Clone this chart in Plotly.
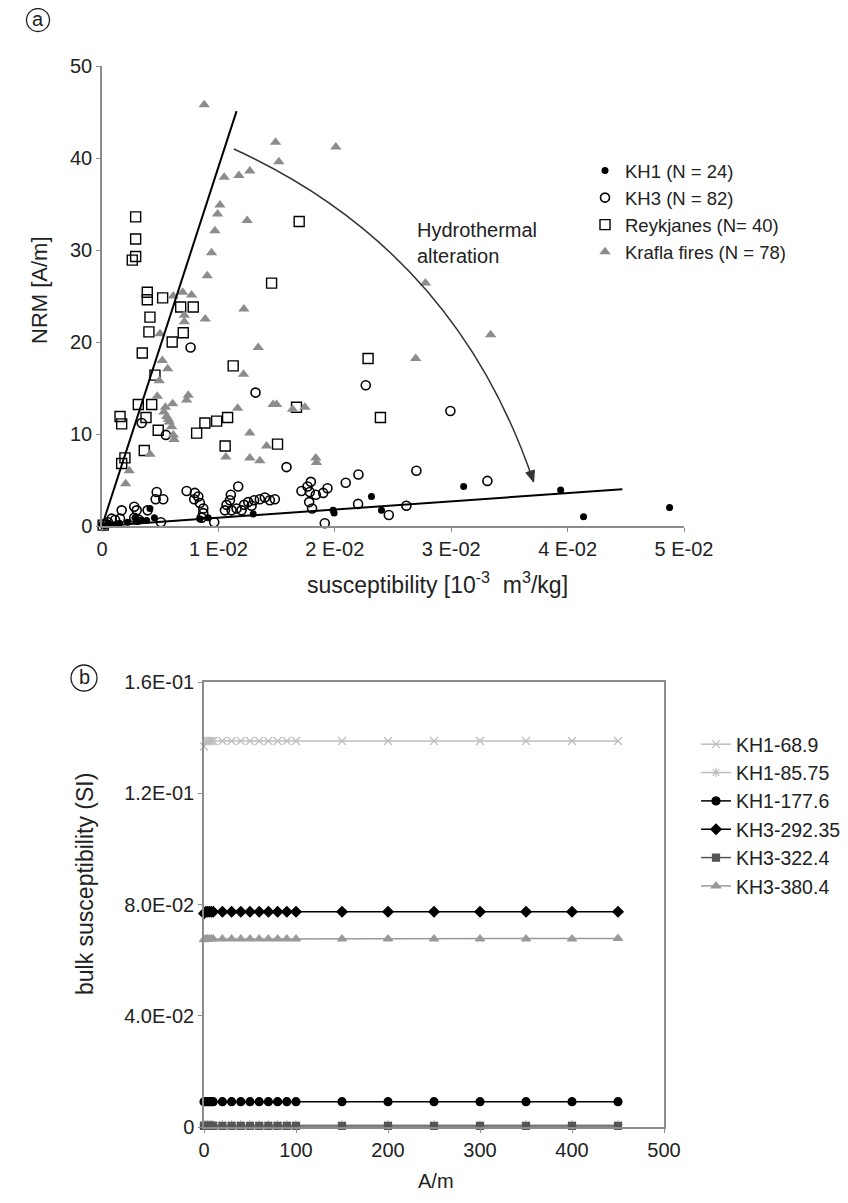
import plotly.graph_objects as go

# ---------------- Panel (a) data ----------------
kh1_x = [0.03107, 0.02315, 0.02401, 0.0394, 0.04137, 0.04876, 0.01985, 0.01994, 0.00841, 0.00912,
         0.01299, 0.00412, 0.00341, 0.00384, 0.00283, 0.00054, 0.00298, 0.00049, 0.0001, 0.0015,
         0.0022, 0.0012, 0.0030, 0.0045]
kh1_y = [4.3, 3.2, 1.7, 3.9, 1.0, 2.0, 1.7, 1.4, 0.75, 0.9,
         1.3, 1.9, 0.65, 0.6, 0.9, 0.3, 0.65, 0.1, 0.05, 0.3,
         0.4, 0.2, 0.5, 0.9]

kh3_x = [0.00761, 0.01319, 0.02266, 0.00549, 0.00341, 0.01585, 0.02203, 0.02094, 0.0117, 0.02701,
         0.02993, 0.03311, 0.02464, 0.02615, 0.022, 0.01914, 0.00964, 0.00506,
         0.00169, 0.00155, 0.00112, 0.00083, 0.00277, 0.00298, 0.00277, 0.00312, 0.00392, 0.0047,
         0.00461, 0.00526,
         0.00727, 0.00798, 0.00827, 0.00792, 0.00841, 0.0087, 0.0087, 0.00856,
         0.01107, 0.01099, 0.0107, 0.01056, 0.01113, 0.01156, 0.01199, 0.01221, 0.01256, 0.01285,
         0.01307, 0.01356, 0.01399, 0.01442, 0.01485,
         0.01794, 0.01766, 0.01714, 0.01785, 0.01837, 0.019, 0.01937, 0.0178, 0.01805,
         0.00017, 0.00052]
kh3_y = [19.4, 14.5, 15.3, 9.9, 11.2, 6.4, 5.6, 4.7, 4.3, 6.0,
         12.5, 4.9, 1.2, 2.2, 2.4, 0.3, 0.4, 0.4,
         1.7, 0.8, 0.65, 0.8, 2.1, 1.7, 0.9, 0.7, 1.7, 3.7,
         2.9, 2.9,
         3.8, 3.6, 3.2, 2.9, 2.5, 1.9, 1.4, 0.9,
         3.4, 2.8, 2.3, 1.7, 1.7, 1.9, 1.7, 2.3, 2.6, 2.2,
         2.8, 2.9, 3.1, 2.8, 2.9,
         4.8, 4.3, 3.8, 3.7, 3.4, 3.6, 4.1, 2.6, 1.9,
         0.2, 0.4]

reyk_x = [0.00289, 0.00289, 0.00289, 0.0026, 0.01694, 0.01457, 0.00389, 0.00521, 0.00389, 0.00676,
          0.00784, 0.00412, 0.00403, 0.00698, 0.00603, 0.00346, 0.01127, 0.00455, 0.00312, 0.00427,
          0.00378, 0.00155, 0.00169, 0.00483, 0.00813, 0.00884, 0.00985, 0.01079, 0.01058, 0.01508,
          0.00363, 0.00197, 0.00169, 0.01671, 0.02286, 0.02392, 0.0001]
reyk_y = [33.6, 31.2, 29.3, 28.9, 33.1, 26.4, 25.4, 24.8, 24.6, 23.8,
          23.8, 22.7, 21.1, 21.0, 20.0, 18.8, 17.4, 16.4, 13.2, 13.2,
          11.8, 11.9, 11.1, 10.4, 10.1, 11.2, 11.4, 11.8, 8.7, 8.9,
          8.2, 7.4, 6.8, 12.9, 18.2, 11.8, 0.1]

krafla_x = [0.00878, 0.01491, 0.02009, 0.01519, 0.01050, 0.01176, 0.01270, 0.01013, 0.00993, 0.01247,
            0.00970, 0.00941, 0.00904, 0.00693, 0.00770, 0.00612, 0.03339, 0.02695, 0.02779, 0.01219,
            0.00707, 0.00707, 0.00887, 0.00498, 0.01342, 0.00518, 0.00564, 0.00492, 0.01216, 0.00475,
            0.00607, 0.00741, 0.00727, 0.00532, 0.00545, 0.00555, 0.00570, 0.00578, 0.00598, 0.00612,
            0.00620, 0.01165, 0.01470, 0.01500, 0.01743, 0.01637, 0.01270, 0.01414, 0.01064, 0.01270,
            0.01356, 0.01837, 0.01843, 0.00412, 0.00234, 0.00203]
krafla_y = [45.8, 41.7, 41.2, 39.6, 37.9, 38.1, 38.6, 34.9, 33.9, 33.2,
            32.1, 29.7, 27.2, 25.4, 25.1, 25.0, 20.8, 18.2, 26.4, 23.6,
            22.2, 22.9, 22.5, 20.9, 19.4, 18.0, 17.1, 15.8, 16.5, 14.1,
            13.3, 14.2, 13.7, 12.4, 12.9, 11.9, 11.6, 11.3, 10.8, 9.9,
            9.4, 12.8, 13.2, 13.2, 12.9, 12.7, 10.1, 8.7, 7.5, 7.4,
            7.1, 7.4, 6.9, 7.8, 6.0, 4.6]

# guide lines (x, y end points, starting at origin)
steep_line_x = [0.0, 0.01156]
steep_line_y = [0.0, 45.1]
flat_line_x = [0.0, 0.0447]
flat_line_y = [0.0, 4.0]

a_xtick_vals = [0, 0.01, 0.02, 0.03, 0.04, 0.05]
a_xtick_text = ["0", "1 E-02", "2 E-02", "3 E-02", "4 E-02", "5 E-02"]
a_ytick_vals = [0, 10, 20, 30, 40, 50]

# ---------------- Panel (b) data ----------------
field_am = [0, 2, 4, 6, 8, 10, 20, 30, 40, 50, 60, 70, 80, 90, 100, 150, 200, 250, 300, 350, 400, 450]
kh1_68_9 = [0.1368] + [0.1388] * 21
kh1_85_75 = [0.0008] * 22
kh1_177_6 = [0.0091] * 22
kh3_292_35 = [0.0768] + [0.0774] * 21
kh3_322_4 = [0.0004] * 22
kh3_380_4 = [0.0674] + [0.0676] * 20 + [0.0678]

b_ytick_vals = [0, 0.04, 0.08, 0.12, 0.16]
b_ytick_text = ["0", "4.0E-02", "8.0E-02", "1.2E-01", "1.6E-01"]

FONT = "Liberation Sans, Arial, sans-serif"
OFF = 8                      # page body margin of the html page
W, H = 848 - 2 * OFF, 1203 - 2 * OFF
ML, MR, MT, MB = 10, 20, 30, 10


def px(v):
    """screen pixel x -> paper fraction"""
    return (v - OFF - ML) / (W - ML - MR)


def py(v):
    """screen pixel y (from top) -> paper fraction"""
    return 1 - (v - OFF - MT) / (H - MT - MB)


fig = go.Figure()

# panel a scatter
fig.add_trace(go.Scatter(x=kh1_x, y=kh1_y, mode="markers", name="KH1 (N = 24)",
                         marker=dict(symbol="circle", size=7, color="black"),
                         cliponaxis=False, legend="legend", xaxis="x", yaxis="y"))
fig.add_trace(go.Scatter(x=kh3_x, y=kh3_y, mode="markers", name="KH3 (N = 82)",
                         marker=dict(symbol="circle-open", size=9, color="black", line=dict(width=1.6)),
                         cliponaxis=False, legend="legend", xaxis="x", yaxis="y"))
fig.add_trace(go.Scatter(x=reyk_x, y=reyk_y, mode="markers", name="Reykjanes (N= 40)",
                         marker=dict(symbol="square-open", size=10, color="black", line=dict(width=1.4)),
                         cliponaxis=False, legend="legend", xaxis="x", yaxis="y"))
fig.add_trace(go.Scatter(x=krafla_x, y=krafla_y, mode="markers", name="Krafla fires (N = 78)",
                         marker=dict(symbol="triangle-up", size=10, color="#8c8c8c"),
                         cliponaxis=False, legend="legend", xaxis="x", yaxis="y"))
fig.add_trace(go.Scatter(x=steep_line_x, y=steep_line_y, mode="lines", showlegend=False,
                         line=dict(color="black", width=2), xaxis="x", yaxis="y", cliponaxis=False))
fig.add_trace(go.Scatter(x=flat_line_x, y=flat_line_y, mode="lines", showlegend=False,
                         line=dict(color="black", width=2), xaxis="x", yaxis="y", cliponaxis=False))

# panel b series
b_series = [
    ("KH1-68.9", kh1_68_9, "x-thin-open", "#bdbdbd", 8),
    ("KH1-85.75", kh1_85_75, "asterisk-open", "#bdbdbd", 8),
    ("KH1-177.6", kh1_177_6, "circle", "black", 8),
    ("KH3-292.35", kh3_292_35, "diamond", "black", 8),
    ("KH3-322.4", kh3_322_4, "square", "#555555", 7),
    ("KH3-380.4", kh3_380_4, "triangle-up", "#999999", 8),
]
for name, vals, sym, col, sz in b_series:
    fig.add_trace(go.Scatter(x=field_am, y=vals, mode="lines+markers", name=name,
                             line=dict(color=col, width=1.5),
                             marker=dict(symbol=sym, size=sz, color=col, line=dict(color=col, width=1.2)),
                             cliponaxis=False, legend="legend2", xaxis="x2", yaxis="y2"))

axis_common = dict(showline=True, linecolor="#8c8c8c", linewidth=1.5, ticks="outside",
                   ticklen=4, tickcolor="#8c8c8c", showgrid=False, zeroline=False,
                   automargin=False,
                   tickfont=dict(family=FONT, size=20, color="#222"))

fig.update_layout(
    width=W, height=H, autosize=False,
    margin=dict(l=ML, r=MR, t=MT, b=MB, autoexpand=False),
    paper_bgcolor="white", plot_bgcolor="white",
    font=dict(family=FONT, color="#222"),
    xaxis=dict(domain=[px(102), px(684)], range=[0, 0.05], tickvals=a_xtick_vals,
               ticktext=a_xtick_text, anchor="y", **axis_common),
    yaxis=dict(domain=[py(526), py(66)], range=[0, 50], tickvals=a_ytick_vals,
               anchor="x", **axis_common),
    xaxis2=dict(domain=[px(204), px(664)], range=[0, 500], dtick=100, anchor="y2",
                mirror=True, **axis_common),
    yaxis2=dict(domain=[py(1127), py(682)], range=[0, 0.16], tickvals=b_ytick_vals,
                ticktext=b_ytick_text, anchor="x2", mirror=True, **axis_common),
    legend=dict(x=px(585), y=py(152), xanchor="left", yanchor="top",
                font=dict(family=FONT, size=18.5, color="#222"), bgcolor="rgba(0,0,0,0)"),
    legend2=dict(x=px(696), y=py(725), xanchor="left", yanchor="top",
                 font=dict(family=FONT, size=19.5, color="#222"), bgcolor="rgba(0,0,0,0)"),
)

# Hydrothermal alteration arc (quadratic Bezier in data coordinates) + arrow head
arc_start = (0.01133, 40.98)
arc_ctrl = (0.03039, 30.0)
arc_end = (0.03708, 4.78)
fig.add_shape(type="path", xref="x", yref="y",
              path=f"M {arc_start[0]},{arc_start[1]} Q {arc_ctrl[0]},{arc_ctrl[1]} {arc_end[0]},{arc_end[1]}",
              line=dict(color="#333", width=1.5))
# filled arrow head (pixel-sized, anchored at the arc end)
fig.add_shape(type="path", xref="x", yref="y", xsizemode="pixel", ysizemode="pixel",
              xanchor=arc_end[0], yanchor=arc_end[1],
              path="M 0,0 L 0.8,12 L -7.8,9.3 Z",
              line=dict(color="#333", width=1), fillcolor="#333")


def note(text, x, y, size, angle=0, xanchor="center", align="center"):
    fig.add_annotation(x=px(x), y=py(y), xref="paper", yref="paper", text=text, textangle=angle,
                       xanchor=xanchor, yanchor="middle", align=align, showarrow=False,
                       font=dict(family=FONT, size=size, color="#222"))


note("Hydrothermal<br>alteration", 415, 243, 20, xanchor="left", align="left")

# axis titles
note("NRM [A/m]", 40, 290, 22, angle=-90)
note("susceptibility [10<sup>-3</sup>  m<sup>3</sup>/kg]", 437, 583, 23)
note("bulk susceptibility (SI)", 85, 884, 23, angle=-90)
note("A/m", 436, 1181, 20)

# circled panel labels
for lab, cx, cy, r in [("a", 38, 20, 11.5), ("b", 84, 678, 13)]:
    fig.add_shape(type="circle", xref="paper", yref="paper",
                  x0=px(cx - r), x1=px(cx + r), y0=py(cy + r), y1=py(cy - r),
                  line=dict(color="#222", width=1.3))
    note(lab, cx, cy - 1, 20)

fig.write_html("out.html")
